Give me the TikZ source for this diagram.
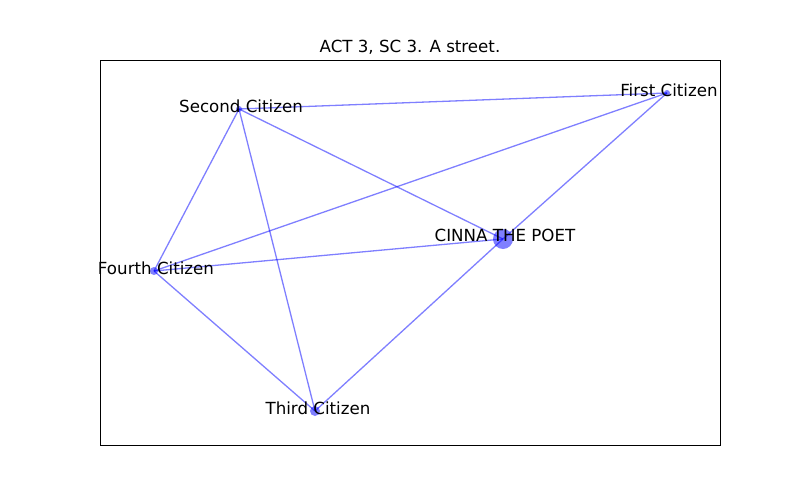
\documentclass[tikz,border=0pt]{standalone}
\usepackage{fontspec}
\setmainfont{DejaVu Sans}
\begin{document}
\begin{tikzpicture}[x=1pt,y=-1pt,
  vtx/.style={circle,fill=blue,fill opacity=0.5,inner sep=0pt,draw=none},
  lbl/.style={anchor=base,inner sep=0pt,font=\fontsize{16.67}{20}\selectfont},
  edge/.style={draw=blue,draw opacity=0.5,line width=1.3pt}]
\useasboundingbox (0,0) rectangle (800,500);
\fill[white] (0,0) rectangle (800,500);
\draw[line width=0.9pt] (100,60) rectangle (720,445);
\node[lbl] (title) at (410,52.5) {ACT 3, SC 3. A street.};
% vertices
\coordinate (first) at (667,93);
\coordinate (second) at (239,109);
\coordinate (fourth) at (154,271);
\coordinate (third) at (315,411);
\coordinate (cinna) at (503,239);
% edges
\draw[edge] (second) -- (first);
\draw[edge] (second) -- (cinna);
\draw[edge] (second) -- (fourth);
\draw[edge] (second) -- (third);
\draw[edge] (first) -- (cinna);
\draw[edge] (first) -- (fourth);
\draw[edge] (fourth) -- (cinna);
\draw[edge] (fourth) -- (third);
\draw[edge] (third) -- (cinna);
% dots
\node[vtx,minimum size=20pt] (cinnadot) at (cinna) {};
\node[vtx,minimum size=6pt] (firstdot) at (first) {};
\node[vtx,minimum size=6pt] (seconddot) at (second) {};
\node[vtx,minimum size=8pt] (fourthdot) at (fourth) {};
\node[vtx,minimum size=10pt] (thirddot) at (third) {};
% labels
\node[lbl] (cinnal) at (505,241.5) {CINNA THE POET};
\node[lbl] (firstl) at (669,96.5) {First Citizen};
\node[lbl] (secondl) at (241,112.5) {Second Citizen};
\node[lbl] (fourthl) at (156,274) {Fourth Citizen};
\node[lbl] (thirdl) at (318,414) {Third Citizen};
\end{tikzpicture}
\end{document}
